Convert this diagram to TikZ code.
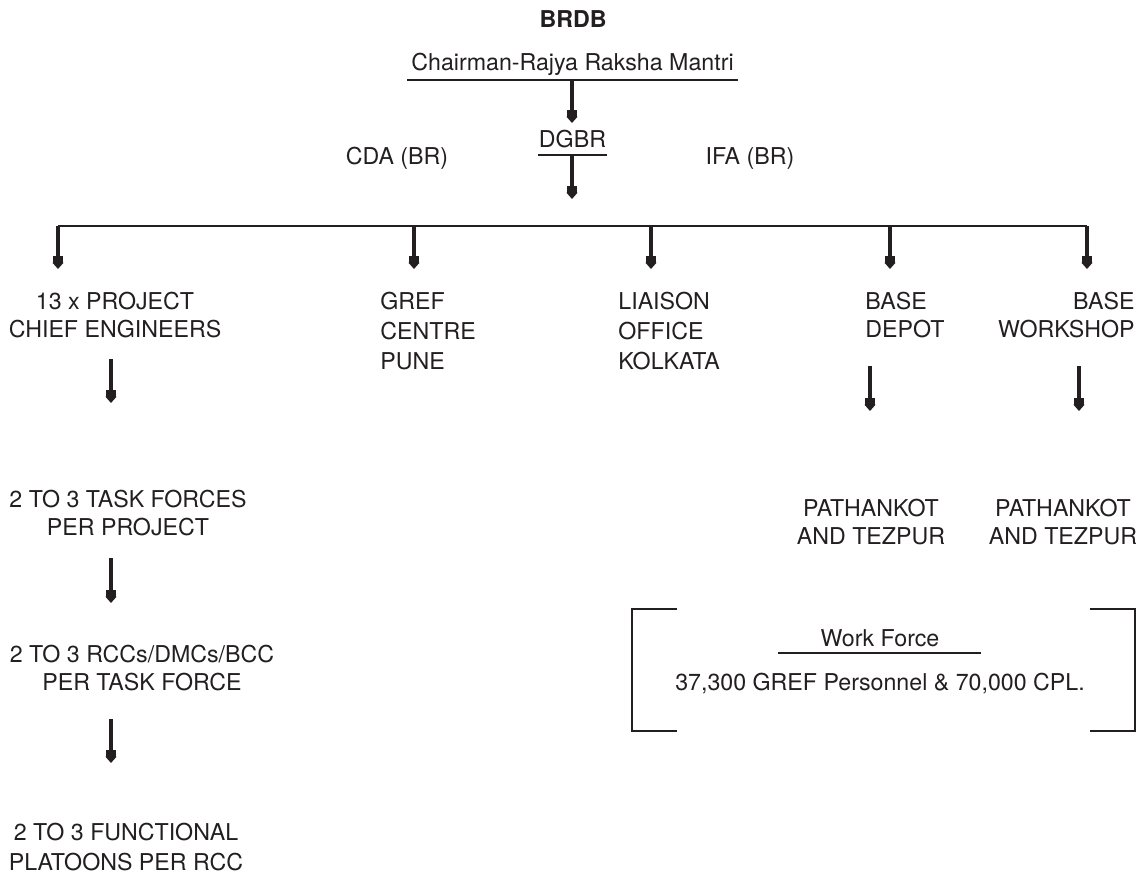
\documentclass[tikz,border=0pt]{standalone}
\usepackage{fontspec}
\setmainfont{TeX Gyre Heros}
\usetikzlibrary{arrows.meta, positioning}
\definecolor{inkgrey}{HTML}{231F20}

\begin{document}
\begin{tikzpicture}[x=0.5pt, y=-0.5pt,
    txt/.style={inner sep=0pt, anchor=base, align=center, text=inkgrey, font=\fontsize{11.6}{14}\selectfont},
    txtloose/.style={txt, font=\fontsize{11.6}{15}\selectfont},
    rule/.style={inkgrey, line width=1pt},
    arr/.style={inkgrey, line width=1.6pt, -{Rectangle[length=3.5pt,width=5.4pt]Triangle[length=3.2pt,width=5.4pt]}}]
    \useasboundingbox (0,0) rectangle (1141,879);
    % top of the chart
    \node[txt, font=\fontsize{11.6}{14}\selectfont\bfseries] (brdb) at (573,27) {BRDB};
    \node[txt] (chair) at (572.5,70) {Chairman-Rajya Raksha Mantri};
    \node[txt] (dgbr) at (572.5,147) {DGBR};
    \node[txt] (cda) at (397,164) {CDA (BR)};
    \node[txt] (ifa) at (750,164) {IFA (BR)};
    \draw[rule] (407,80) coordinate (chairbar) -- (738,80);
    \draw[rule] (538,155) coordinate (dgbrbar) -- (607,155);
    \coordinate (chairout) at (572,80);
    \coordinate (dgbrin) at (572,123);
    \coordinate (dgbrout) at (572,155);
    \coordinate (busin) at (572,199);
    \draw[arr] (chairout) -- (dgbrin);
    \draw[arr] (dgbrout) -- (busin);
    % bus with the five branches
    \coordinate (busw) at (58,226);
    \coordinate (buse) at (1087,226);
    \draw[rule] (busw) -- (buse);
    \foreach \x/\n in {58/ce,414/gref,651/lo,890/depot,1087/wshop}
        \draw[arr] (\x,226) -- (\x,269) coordinate (\n-in);
    % first level
    \node[txt] (ce) at (115,337) {13 x PROJECT\\CHIEF ENGINEERS};
    \node[txtloose, anchor=base west, align=left] (gref) at (380,369) {GREF\\CENTRE\\PUNE};
    \node[txtloose, anchor=base west, align=left] (lo) at (618,369) {LIAISON\\OFFICE\\KOLKATA};
    \node[txt, anchor=base west, align=left] (depot) at (865,337) {BASE\\DEPOT};
    \node[txt, anchor=base east, align=right] (wshop) at (1135,337) {BASE\\WORKSHOP};
    % second level
    \coordinate (ceout) at (111,359);
    \coordinate (tfin) at (111,403);
    \coordinate (depotout) at (870,366);
    \coordinate (pkain) at (870,411);
    \coordinate (wshopout) at (1079,366);
    \coordinate (pkbin) at (1079,411);
    \draw[arr] (ceout) -- (tfin);
    \draw[arr] (depotout) -- (pkain);
    \draw[arr] (wshopout) -- (pkbin);
    \node[txt] (tf) at (128,535) {2 TO 3 TASK FORCES\\PER PROJECT};
    \node[txt] (pka) at (871,544) {PATHANKOT\\AND TEZPUR};
    \node[txt] (pkb) at (1063,544) {PATHANKOT\\AND TEZPUR};
    % lower levels
    \coordinate (tfout) at (111,558);
    \coordinate (rccin) at (111,603);
    \coordinate (rccout) at (111,719);
    \coordinate (fpin) at (111,763);
    \draw[arr] (tfout) -- (rccin);
    \draw[arr] (rccout) -- (fpin);
    \node[txt] (rcc) at (142,690) {2 TO 3 RCCs/DMCs/BCC\\PER TASK FORCE};
    \node[txtloose] (fp) at (126,870) {2 TO 3 FUNCTIONAL\\PLATOONS PER RCC};
    % work force bracket
    \draw[rule] (677,609) -- (632,609) -- (632,731) -- (677,731);
    \draw[rule] (1090,609) -- (1135,609) -- (1135,731) -- (1090,731);
    \node[txt] (wf) at (880,646) {Work Force};
    \draw[rule] (778,653) -- (981,653);
    \node[txt] (wfnum) at (880,690) {37,300 GREF Personnel \& 70,000 CPL.};
\end{tikzpicture}
\end{document}
